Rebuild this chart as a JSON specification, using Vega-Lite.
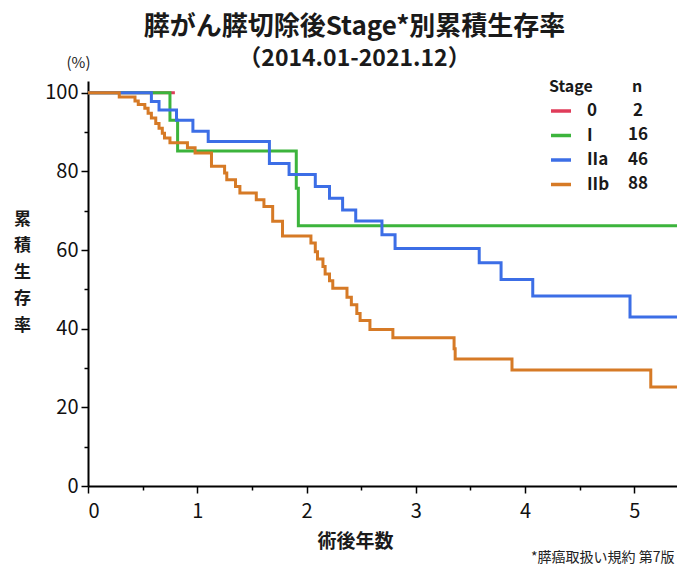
{
  "$schema": "https://vega.github.io/schema/vega-lite/v6.json",
  "width": 589,
  "height": 405,
  "autosize": {"type": "none"},
  "padding": {"left": 88, "top": 81, "right": 0, "bottom": 81},
  "background": "white",
  "config": {"view": {"stroke": null}, "font": "Noto Sans CJK JP"},
  "title": {
    "text": "膵がん膵切除後Stage*別累積生存率",
    "subtitle": "（2014.01-2021.12）",
    "anchor": "middle",
    "frame": "group",
    "dx": -28,
    "offset": -16,
    "font": "Noto Sans CJK JP",
    "subtitleFont": "Noto Sans CJK JP",
    "fontSize": 26,
    "subtitleFontSize": 23,
    "fontWeight": "bold",
    "subtitleFontWeight": "bold",
    "color": "#1a1a1a",
    "subtitleColor": "#1a1a1a",
    "subtitlePadding": 8
  },
  "data": {
    "values": [
      {"stage": "0", "n": "2", "year": 0, "rate": 100},
      {"stage": "0", "n": "2", "year": 0.795, "rate": 100},

      {"stage": "I", "n": "16", "year": 0, "rate": 100},
      {"stage": "I", "n": "16", "year": 0.75, "rate": 93.0},
      {"stage": "I", "n": "16", "year": 0.82, "rate": 85.2},
      {"stage": "I", "n": "16", "year": 1.906, "rate": 75.7},
      {"stage": "I", "n": "16", "year": 1.925, "rate": 66.2},
      {"stage": "I", "n": "16", "year": 5.39, "rate": 66.2},

      {"stage": "IIa", "n": "46", "year": 0, "rate": 100},
      {"stage": "IIa", "n": "46", "year": 0.58, "rate": 97.8},
      {"stage": "IIa", "n": "46", "year": 0.65, "rate": 95.6},
      {"stage": "IIa", "n": "46", "year": 0.81, "rate": 93.0},
      {"stage": "IIa", "n": "46", "year": 0.96, "rate": 90.2},
      {"stage": "IIa", "n": "46", "year": 1.10, "rate": 87.6},
      {"stage": "IIa", "n": "46", "year": 1.66, "rate": 82.0},
      {"stage": "IIa", "n": "46", "year": 1.84, "rate": 79.2},
      {"stage": "IIa", "n": "46", "year": 2.08, "rate": 76.2},
      {"stage": "IIa", "n": "46", "year": 2.21, "rate": 73.2},
      {"stage": "IIa", "n": "46", "year": 2.33, "rate": 70.2},
      {"stage": "IIa", "n": "46", "year": 2.45, "rate": 67.4},
      {"stage": "IIa", "n": "46", "year": 2.69, "rate": 63.9},
      {"stage": "IIa", "n": "46", "year": 2.81, "rate": 60.4},
      {"stage": "IIa", "n": "46", "year": 3.58, "rate": 56.8},
      {"stage": "IIa", "n": "46", "year": 3.78, "rate": 52.5},
      {"stage": "IIa", "n": "46", "year": 4.07, "rate": 48.3},
      {"stage": "IIa", "n": "46", "year": 4.96, "rate": 43.0},
      {"stage": "IIa", "n": "46", "year": 5.39, "rate": 43.0},

      {"stage": "IIb", "n": "88", "year": 0, "rate": 100},
      {"stage": "IIb", "n": "88", "year": 0.286, "rate": 98.9},
      {"stage": "IIb", "n": "88", "year": 0.43, "rate": 97.9},
      {"stage": "IIb", "n": "88", "year": 0.46, "rate": 97.0},
      {"stage": "IIb", "n": "88", "year": 0.52, "rate": 96.1},
      {"stage": "IIb", "n": "88", "year": 0.55, "rate": 94.8},
      {"stage": "IIb", "n": "88", "year": 0.58, "rate": 93.6},
      {"stage": "IIb", "n": "88", "year": 0.62, "rate": 92.2},
      {"stage": "IIb", "n": "88", "year": 0.65, "rate": 91.0},
      {"stage": "IIb", "n": "88", "year": 0.68, "rate": 89.7},
      {"stage": "IIb", "n": "88", "year": 0.70, "rate": 88.5},
      {"stage": "IIb", "n": "88", "year": 0.75, "rate": 87.3},
      {"stage": "IIb", "n": "88", "year": 0.91, "rate": 86.0},
      {"stage": "IIb", "n": "88", "year": 0.98, "rate": 84.7},
      {"stage": "IIb", "n": "88", "year": 1.13, "rate": 81.3},
      {"stage": "IIb", "n": "88", "year": 1.25, "rate": 79.6},
      {"stage": "IIb", "n": "88", "year": 1.27, "rate": 77.9},
      {"stage": "IIb", "n": "88", "year": 1.35, "rate": 76.2},
      {"stage": "IIb", "n": "88", "year": 1.39, "rate": 74.5},
      {"stage": "IIb", "n": "88", "year": 1.54, "rate": 72.8},
      {"stage": "IIb", "n": "88", "year": 1.61, "rate": 71.1},
      {"stage": "IIb", "n": "88", "year": 1.69, "rate": 67.3},
      {"stage": "IIb", "n": "88", "year": 1.78, "rate": 63.6},
      {"stage": "IIb", "n": "88", "year": 2.04, "rate": 61.8},
      {"stage": "IIb", "n": "88", "year": 2.08, "rate": 59.6},
      {"stage": "IIb", "n": "88", "year": 2.10, "rate": 57.7},
      {"stage": "IIb", "n": "88", "year": 2.15, "rate": 55.8},
      {"stage": "IIb", "n": "88", "year": 2.17, "rate": 53.9},
      {"stage": "IIb", "n": "88", "year": 2.21, "rate": 52.2},
      {"stage": "IIb", "n": "88", "year": 2.24, "rate": 50.3},
      {"stage": "IIb", "n": "88", "year": 2.37, "rate": 48.0},
      {"stage": "IIb", "n": "88", "year": 2.41, "rate": 46.1},
      {"stage": "IIb", "n": "88", "year": 2.46, "rate": 43.9},
      {"stage": "IIb", "n": "88", "year": 2.49, "rate": 42.1},
      {"stage": "IIb", "n": "88", "year": 2.58, "rate": 39.8},
      {"stage": "IIb", "n": "88", "year": 2.79, "rate": 37.7},
      {"stage": "IIb", "n": "88", "year": 3.35, "rate": 34.9},
      {"stage": "IIb", "n": "88", "year": 3.36, "rate": 32.3},
      {"stage": "IIb", "n": "88", "year": 3.88, "rate": 29.5},
      {"stage": "IIb", "n": "88", "year": 5.15, "rate": 25.2},
      {"stage": "IIb", "n": "88", "year": 5.39, "rate": 25.2}
    ]
  },
  "resolve": {"axis": {"x": "independent", "y": "independent"}},
  "layer": [
    {
      "mark": {"type": "line", "interpolate": "step-after", "opacity": 0},
      "encoding": {
        "x": {
          "field": "year", "type": "quantitative",
          "scale": {"domain": [0, 5.39], "nice": false},
          "axis": {
            "orient": "bottom", "values": [0.5, 1.5, 2.5, 3.5, 4.5],
            "labels": false, "domain": false, "grid": false,
            "ticks": true, "tickSize": 4, "tickWidth": 1.5, "tickColor": "#000",
            "title": "*膵癌取扱い規約 第7版",
            "titleFont": "Noto Sans CJK JP", "titleFontSize": 14, "titleFontWeight": "normal",
            "titleColor": "#222", "titleAnchor": null, "titleAlign": "right", "titleBaseline": "middle",
            "titleX": 586, "titleY": 71
          }
        },
        "y": {
          "field": "rate", "type": "quantitative",
          "scale": {"domain": [0, 103], "nice": false},
          "axis": {
            "orient": "left", "values": [10, 30, 50, 70, 90],
            "labels": false, "domain": false, "grid": false,
            "ticks": true, "tickSize": 4, "tickWidth": 1.5, "tickColor": "#000",
            "title": ["累", "積", "生", "存", "率"],
            "titleFont": "Noto Sans CJK JP", "titleFontSize": 17, "titleFontWeight": "bold",
            "titleColor": "#1a1a1a", "titleAngle": 0, "titleAlign": "center", "titleBaseline": "top",
            "titleLineHeight": 26.5, "titleAnchor": null,
            "titleX": -66, "titleY": 130
          }
        }
      }
    },
    {
      "mark": {"type": "line", "interpolate": "step-after"},
      "encoding": {
        "x": {
          "field": "year", "type": "quantitative",
          "scale": {"domain": [0, 5.39], "nice": false},
          "axis": {
            "orient": "bottom", "values": [0, 1, 2, 3, 4, 5], "format": "d",
            "grid": false, "domainColor": "#000", "domainWidth": 2,
            "tickColor": "#000", "tickWidth": 1.5, "tickSize": 7,
            "labelFont": "Noto Sans CJK JP", "labelFontSize": 20, "labelColor": "#111", "labelPadding": 8,
            "title": "術後年数",
            "titleFont": "Noto Sans CJK JP", "titleFontSize": 19, "titleFontWeight": "bold",
            "titleColor": "#1a1a1a", "titleAnchor": null, "titleAlign": "center", "titleBaseline": "middle",
            "titleX": 267, "titleY": 55
          }
        },
        "y": {
          "field": "rate", "type": "quantitative",
          "scale": {"domain": [0, 103], "nice": false},
          "axis": {
            "orient": "left", "values": [0, 20, 40, 60, 80, 100],
            "grid": false, "domainColor": "#000", "domainWidth": 2,
            "tickColor": "#000", "tickWidth": 1.5, "tickSize": 7,
            "labelFont": "Noto Sans CJK JP", "labelFontSize": 20, "labelColor": "#111", "labelPadding": 3,
            "title": "(%)",
            "titleFont": "Noto Sans CJK JP", "titleFontSize": 15, "titleFontWeight": "normal",
            "titleColor": "#222", "titleAngle": 0, "titleAlign": "center", "titleBaseline": "middle",
            "titleAnchor": null, "titleX": -10, "titleY": -19
          }
        },
        "color": {
          "field": "stage", "type": "nominal",
          "scale": {"domain": ["0", "I", "IIa", "IIb"], "range": ["#e03c5a", "#3cb43c", "#3c6ee6", "#d67a26"]},
          "legend": {
            "title": "Stage", "orient": "none", "legendX": 461, "legendY": -2,
            "padding": 0, "symbolType": "stroke", "symbolSize": 400, "symbolStrokeWidth": 3.5,
            "titleFont": "Noto Sans CJK JP", "titleFontSize": 16, "titleFontWeight": "bold", "titleColor": "#1a1a1a",
            "titlePadding": 4,
            "labelFont": "Noto Sans CJK JP", "labelFontSize": 17, "labelFontWeight": "bold", "labelColor": "#1a1a1a",
            "labelOffset": 14, "rowPadding": 4.5
          }
        },
        "strokeWidth": {
          "field": "n", "type": "ordinal",
          "scale": {"domain": ["2", "16", "46", "88"], "range": [3, 3, 3, 3]},
          "legend": {
            "title": "n", "orient": "none", "legendX": 544, "legendY": -2,
            "padding": 0, "symbolType": "stroke", "symbolSize": 400, "symbolOpacity": 0, "symbolStrokeColor": "transparent",
            "titleFont": "Noto Sans CJK JP", "titleFontSize": 16, "titleFontWeight": "bold", "titleColor": "#1a1a1a",
            "titlePadding": 4,
            "labelFont": "Noto Sans CJK JP", "labelFontSize": 17, "labelFontWeight": "bold", "labelColor": "#1a1a1a",
            "labelAlign": "center", "labelOffset": -17, "rowPadding": 4.5
          }
        }
      }
    }
  ]
}
